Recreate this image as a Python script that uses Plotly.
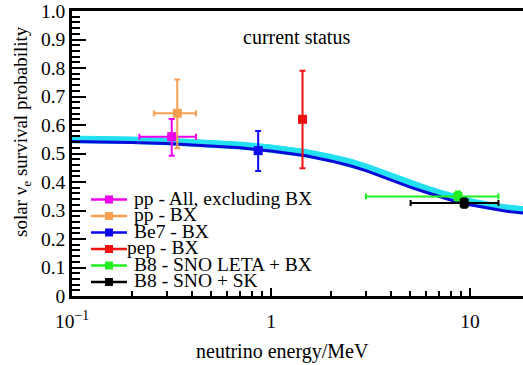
import plotly.graph_objects as go

# ---------------- data ----------------
E_curve = [0.1, 0.15, 0.2, 0.3, 0.5, 0.7, 1.0, 1.5, 2.0, 2.5, 3.0, 4.0, 5.0, 6.0, 7.0, 8.0, 10.0, 12.0, 15.0, 19.0]
P_line = [0.542, 0.541, 0.539, 0.535, 0.527, 0.520, 0.509, 0.492, 0.474, 0.457, 0.440, 0.407, 0.382, 0.364, 0.349, 0.337, 0.320, 0.309, 0.298, 0.290]
P_band_hi = [0.561, 0.560, 0.558, 0.554, 0.547, 0.540, 0.530, 0.514, 0.497, 0.481, 0.464, 0.432, 0.406, 0.388, 0.373, 0.361, 0.342, 0.331, 0.320, 0.313]
P_band_lo = [0.536, 0.535, 0.533, 0.529, 0.521, 0.514, 0.503, 0.486, 0.469, 0.452, 0.436, 0.404, 0.378, 0.360, 0.345, 0.333, 0.316, 0.305, 0.295, 0.288]

labels = ["pp - All, excluding BX", "pp - BX", "Be7 - BX", "pep - BX", "B8 - SNO LETA + BX", "B8 - SNO + SK"]
colors = ["#ee00ee", "#f7a052", "#0a0aee", "#f01010", "#22ee22", "#000000"]
E_pt = [0.317, 0.338, 0.862, 1.44, 8.7, 9.35]
P_pt = [0.559, 0.641, 0.510, 0.620, 0.349, 0.326]
P_err_hi = [0.062, 0.119, 0.069, 0.170, 0.018, 0.016]
P_err_lo = [0.067, 0.123, 0.071, 0.172, 0.014, 0.016]
E_lo = [0.218, 0.258, None, None, 3.0, 5.03]
E_hi = [0.42, 0.42, None, None, 13.9, 13.9]

x_tickvals = [0.1, 1, 10]
x_ticktext = ["10<sup>\u22121</sup>", "1", "10"]
x_minor = [0.2, 0.3, 0.4, 0.5, 0.6, 0.7, 0.8, 0.9, 2, 3, 4, 5, 6, 7, 8, 9]
y_tickvals = [0, 0.1, 0.2, 0.3, 0.4, 0.5, 0.6, 0.7, 0.8, 0.9, 1.0]
y_ticktext = ["0", "0.1", "0.2", "0.3", "0.4", "0.5", "0.6", "0.7", "0.8", "0.9", "1.0"]

FONT = "Liberation Serif, Times New Roman, serif"

fig = go.Figure()

# band + line
fig.add_trace(go.Scatter(x=E_curve, y=P_band_lo, mode="lines", line=dict(width=0, color="#22e0f0"),
                         showlegend=False, hoverinfo="skip"))
fig.add_trace(go.Scatter(x=E_curve, y=P_band_hi, mode="lines", line=dict(width=1, color="#22e0f0"),
                         fill="tonexty", fillcolor="#22e0f0", showlegend=False, hoverinfo="skip"))
fig.add_trace(go.Scatter(x=E_curve, y=P_line, mode="lines", line=dict(width=3, color="#0a0ad8"),
                         showlegend=False))

for i in range(len(labels)):
    ex = None
    if E_lo[i] is not None:
        ex = dict(type="data", symmetric=False,
                  array=[E_hi[i] - E_pt[i]], arrayminus=[E_pt[i] - E_lo[i]],
                  color=colors[i], thickness=2, width=3)
    fig.add_trace(go.Scatter(
        x=[E_pt[i]], y=[P_pt[i]], mode="markers", name=labels[i],
        marker=dict(symbol="square", size=9, color=colors[i]),
        error_y=dict(type="data", symmetric=False, array=[P_err_hi[i]], arrayminus=[P_err_lo[i]],
                     color=colors[i], thickness=2, width=3),
        error_x=ex if ex else dict(visible=False),
        showlegend=False))

# ---------------- custom legend ----------------
L, R, B, T = 72, 523, 296, 11
W, H = R - L, B - T
def px(x):
    return (x - L) / W
def py(y):
    return (B - y) / H

shapes = []
annotations = []
row_y0, row_dy = 199.5, 16.5
for i, lab in enumerate(labels):
    yy = row_y0 + i * row_dy
    shapes.append(dict(type="line", xref="paper", yref="paper", x0=px(91), x1=px(127), y0=py(yy), y1=py(yy),
                       line=dict(color=colors[i], width=2.5)))
    shapes.append(dict(type="rect", xref="paper", yref="paper", x0=px(105), x1=px(113), y0=py(yy - 4), y1=py(yy + 4),
                       line=dict(width=0), fillcolor=colors[i]))
    tx = 125 if lab.startswith("pep") else 132
    annotations.append(dict(text=lab, xref="paper", yref="paper", x=px(tx), y=py(yy - 1.5), xanchor="left",
                            yanchor="middle", showarrow=False, font=dict(family=FONT, size=19.5, color="black")))

annotations.append(dict(text="current status", xref="paper", yref="paper", x=px(296), y=py(37),
                        xanchor="center", yanchor="middle", showarrow=False,
                        font=dict(family=FONT, size=20, color="black")))
annotations.append(dict(text="neutrino energy/MeV", xref="paper", yref="paper", x=px(282), y=py(351),
                        xanchor="center", yanchor="middle", showarrow=False,
                        font=dict(family=FONT, size=20, color="black")))
annotations.append(dict(text="solar \u03bd<sub>e</sub> survival probability", xref="paper", yref="paper",
                        x=px(22), y=py(132), xanchor="center", yanchor="middle", textangle=-90,
                        showarrow=False, font=dict(family=FONT, size=19, color="black")))

fig.update_layout(
    width=523, height=365,
    margin=dict(l=L, r=523 - R, t=T, b=365 - B, pad=0),
    paper_bgcolor="white", plot_bgcolor="white",
    font=dict(family=FONT, size=19, color="black"),
    shapes=shapes, annotations=annotations,
    showlegend=False,
)
fig.update_xaxes(type="log", range=[-1, 1.2663], showgrid=False, zeroline=False,
                 showline=True, linecolor="black", linewidth=2.5, mirror=True,
                 ticks="inside", ticklen=8, tickwidth=1.5, tickcolor="black",
                 tickvals=x_tickvals, ticktext=x_ticktext, ticklabelstandoff=6,
                 tickfont=dict(family=FONT, size=19.5),
                 minor=dict(tickvals=x_minor, ticks="inside", ticklen=5, tickwidth=1.5, tickcolor="black"))
fig.update_yaxes(range=[0, 1], showgrid=False, zeroline=False,
                 showline=True, linecolor="black", linewidth=2.5, mirror=False,
                 ticks="inside", ticklen=14, tickwidth=2, tickcolor="black",
                 tickvals=y_tickvals, ticktext=y_ticktext,
                 tickfont=dict(family=FONT, size=19.5),
                 minor=dict(dtick=0.02, ticks="inside", ticklen=8, tickwidth=2, tickcolor="black"))

fig.write_html("out.html")
